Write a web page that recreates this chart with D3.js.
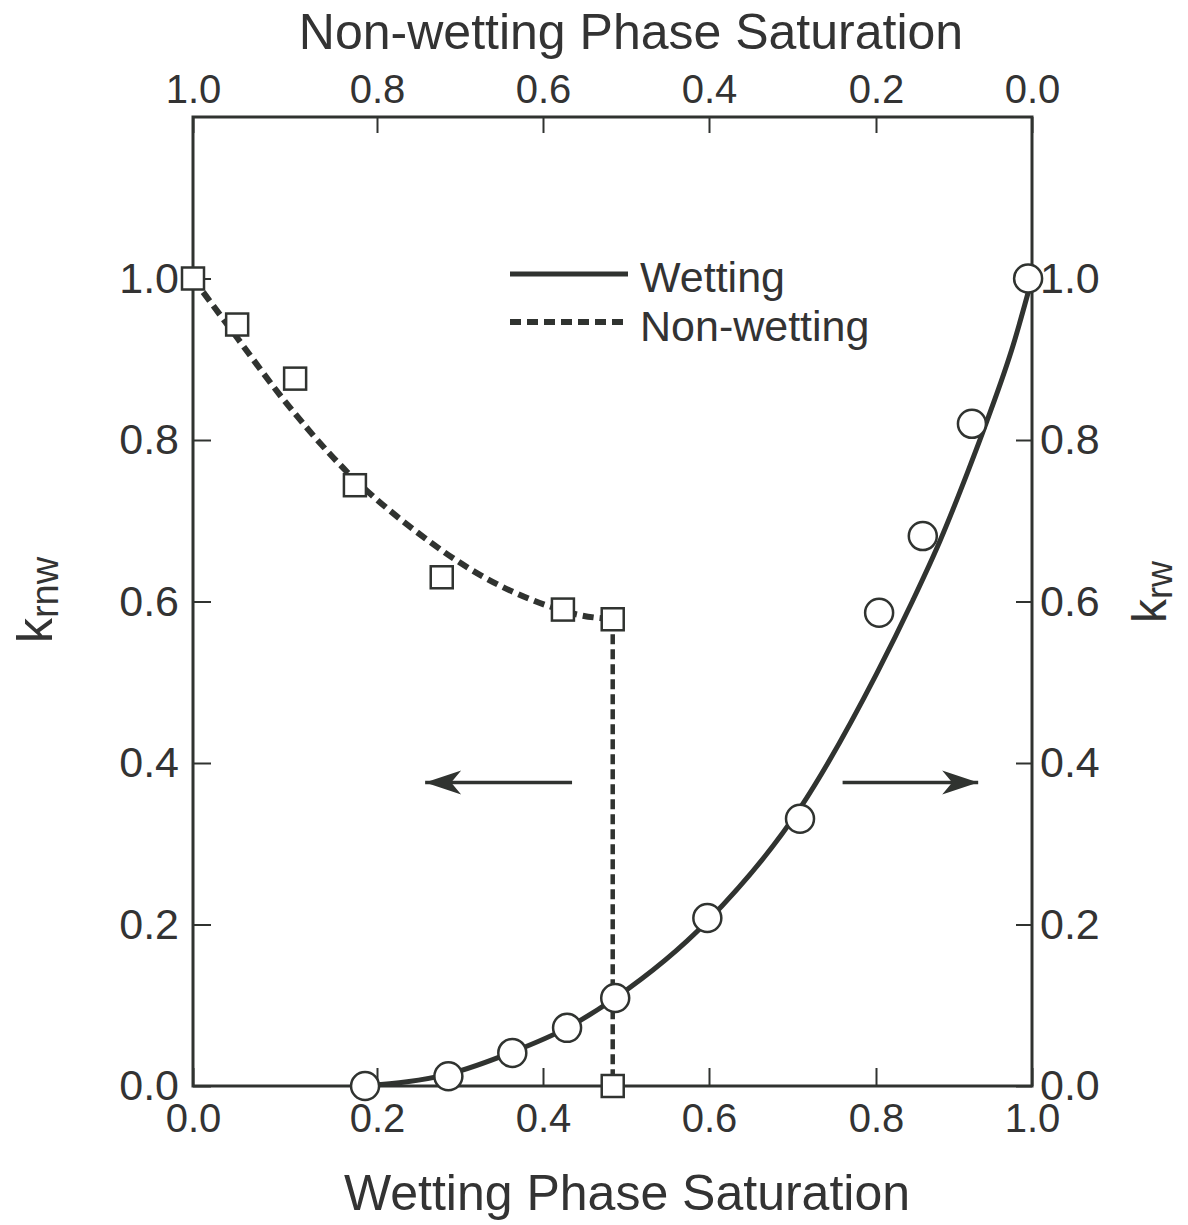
<!DOCTYPE html>
<html>
<head>
<meta charset="utf-8">
<script src="https://cdn.jsdelivr.net/npm/d3@7"></script>
<style>
  body { margin: 0; background: #fff; }
  text { font-family: "Liberation Sans", Arial, sans-serif; fill: #333; }
</style>
</head>
<body>
<div id="chart"></div>
<script>
// tick values (bottom = wetting saturation, top = non-wetting saturation)
const xTicks = [0.0, 0.2, 0.4, 0.6, 0.8, 1.0];
const xTopTicks = [1.0, 0.8, 0.6, 0.4, 0.2, 0.0];
const yTicks = [0.0, 0.2, 0.4, 0.6, 0.8, 1.0];

// non-wetting measurements (squares)
const nwSw = [0.0, 0.048, 0.111, 0.176, 0.278, 0.424, 0.484, 0.484];
const nwKr = [1.0, 0.943, 0.876, 0.744, 0.630, 0.590, 0.578, 0.0];

// non-wetting fitted curve (dashed)
const nwFitSw = [0.0, 0.049, 0.095, 0.167, 0.243, 0.324, 0.405, 0.445, 0.484];
const nwFitKr = [1.0, 0.925, 0.855, 0.761, 0.690, 0.633, 0.595, 0.583, 0.578];
// the vertical drop of the non-wetting curve
const nwDropSw = [0.484, 0.484];
const nwDropKr = [0.578, 0.0];

// wetting measurements (circles)
const wSw = [0.187, 0.286, 0.363, 0.429, 0.487, 0.598, 0.709, 0.804, 0.860, 0.923, 0.995];
const wKr = [0.0, 0.012, 0.041, 0.072, 0.109, 0.208, 0.331, 0.586, 0.681, 0.820, 1.0];

// wetting fitted curve (solid)
const wFitSw = [0.187, 0.287, 0.363, 0.429, 0.487, 0.598, 0.709, 0.801, 0.847, 0.882, 0.917, 0.942, 0.976, 1.0];
const wFitKr = [0.0, 0.015, 0.042, 0.072, 0.109, 0.204, 0.344, 0.511, 0.601, 0.675, 0.759, 0.823, 0.918, 1.0];

// direction arrows [from, to] in saturation, at one kr level
const arrowLeftSw = [0.435, 0.258];
const arrowRightSw = [0.760, 0.931];
const arrowKr = 0.376;

const width = 1188, height = 1225;
const plotL = 193, plotR = 1032, plotT = 117, plotB = 1086;
const ink = "#303330";

// the printed axis is not evenly spaced, so the scale follows the tick marks
const x = d3.scaleLinear()
    .domain(xTicks)
    .range([plotL, 377, 543, 709, 876, plotR]);
const xTop = d3.scaleLinear()
    .domain(xTopTicks)
    .range([plotL, 377, 543, 709, 876, plotR]);
const y = d3.scaleLinear().domain([0, 1.2]).range([plotB, plotT]);

const svg = d3.select("#chart").append("svg")
    .attr("width", width)
    .attr("height", height)
    .style("background", "#fff");

// arrow head
svg.append("defs").append("marker")
    .attr("id", "head")
    .attr("markerUnits", "userSpaceOnUse")
    .attr("viewBox", "-40 -15 42 30")
    .attr("refX", 0).attr("refY", 0)
    .attr("markerWidth", 42).attr("markerHeight", 30)
    .attr("orient", "auto")
  .append("path")
    .attr("d", "M0,0 L-36,-12 L-26,0 L-36,12 Z")
    .attr("fill", ink);

const fmt = d3.format(".1f");
const tickLen = 16;

function styleAxis(size) {
  return g => {
    g.select(".domain").remove();
    g.selectAll(".tick line").attr("stroke", ink).attr("stroke-width", 2);
    g.selectAll(".tick text")
      .attr("fill", ink)
      .attr("font-size", size)
      .attr("font-family", "Liberation Sans, Arial, sans-serif");
  };
}

svg.append("g")
    .attr("transform", `translate(0,${plotB})`)
    .call(d3.axisBottom(x).tickValues(xTicks).tickFormat(fmt).tickSize(-18).tickPadding(18))
    .call(styleAxis(40));

svg.append("g")
    .attr("transform", `translate(0,${plotT})`)
    .call(d3.axisTop(xTop).tickValues(xTopTicks).tickFormat(fmt).tickSize(-tickLen).tickPadding(14))
    .call(styleAxis(40));

svg.append("g")
    .attr("transform", `translate(${plotL},0)`)
    .call(d3.axisLeft(y).tickValues(yTicks).tickFormat(fmt).tickSize(-18).tickPadding(14))
    .call(styleAxis(43));

svg.append("g")
    .attr("transform", `translate(${plotR},0)`)
    .call(d3.axisRight(y).tickValues(yTicks).tickFormat(fmt).tickSize(-tickLen).tickPadding(8))
    .call(styleAxis(43));

// frame
svg.append("rect")
    .attr("x", plotL).attr("y", plotT)
    .attr("width", plotR - plotL).attr("height", plotB - plotT)
    .attr("fill", "none")
    .attr("stroke", ink)
    .attr("stroke-width", 3);

// curves
const line = d3.line().x(d => x(d[0])).y(d => y(d[1])).curve(d3.curveMonotoneX);
const straight = d3.line().x(d => x(d[0])).y(d => y(d[1]));

svg.append("path")
    .attr("d", line(d3.zip(wFitSw, wFitKr)))
    .attr("fill", "none")
    .attr("stroke", ink)
    .attr("stroke-width", 5);

svg.append("path")
    .attr("d", line(d3.zip(nwFitSw, nwFitKr)))
    .attr("fill", "none")
    .attr("stroke", ink)
    .attr("stroke-width", 6)
    .attr("stroke-dasharray", "11,6");

svg.append("path")
    .attr("d", straight(d3.zip(nwDropSw, nwDropKr)))
    .attr("fill", "none")
    .attr("stroke", ink)
    .attr("stroke-width", 4.5)
    .attr("stroke-dasharray", "10,5");

// markers
const sq = 22;
svg.append("g")
  .selectAll("rect")
  .data(d3.zip(nwSw, nwKr))
  .join("rect")
    .attr("x", d => x(d[0]) - sq / 2)
    .attr("y", d => y(d[1]) - sq / 2)
    .attr("width", sq).attr("height", sq)
    .attr("fill", "#fff")
    .attr("stroke", ink)
    .attr("stroke-width", 2.5);

svg.append("g")
  .selectAll("circle")
  .data(d3.zip(wSw, wKr))
  .join("circle")
    .attr("cx", d => x(d[0]))
    .attr("cy", d => y(d[1]))
    .attr("r", 14)
    .attr("fill", "#fff")
    .attr("stroke", ink)
    .attr("stroke-width", 2.5);

// arrows
[arrowLeftSw, arrowRightSw].forEach(a => {
  svg.append("line")
      .attr("x1", x(a[0])).attr("x2", x(a[1]))
      .attr("y1", y(arrowKr)).attr("y2", y(arrowKr))
      .attr("stroke", ink)
      .attr("stroke-width", 3.5)
      .attr("marker-end", "url(#head)");
});

// legend
const legend = svg.append("g");
legend.append("line")
    .attr("x1", 510).attr("x2", 628).attr("y1", 274).attr("y2", 274)
    .attr("stroke", ink).attr("stroke-width", 5);
legend.append("line")
    .attr("x1", 510).attr("x2", 628).attr("y1", 322).attr("y2", 322)
    .attr("stroke", ink).attr("stroke-width", 6).attr("stroke-dasharray", "11,6");
legend.append("text").attr("x", 640).attr("y", 292).attr("font-size", 43).text("Wetting");
legend.append("text").attr("x", 640).attr("y", 341).attr("font-size", 43).text("Non-wetting");

// axis titles
svg.append("text")
    .attr("x", 631).attr("y", 49)
    .attr("text-anchor", "middle")
    .attr("font-size", 50)
    .text("Non-wetting Phase Saturation");

svg.append("text")
    .attr("x", 627).attr("y", 1210)
    .attr("text-anchor", "middle")
    .attr("font-size", 50)
    .text("Wetting Phase Saturation");

const yl = svg.append("text")
    .attr("transform", "translate(52,600) rotate(-90)")
    .attr("text-anchor", "middle")
    .attr("font-size", 50);
yl.append("tspan").text("k");
yl.append("tspan").attr("font-size", 38).attr("dy", 6).text("rnw");

const yr = svg.append("text")
    .attr("transform", "translate(1166,592) rotate(-90)")
    .attr("text-anchor", "middle")
    .attr("font-size", 48);
yr.append("tspan").text("k");
yr.append("tspan").attr("font-size", 36).attr("dy", 6).text("rw");
</script>
</body>
</html>
